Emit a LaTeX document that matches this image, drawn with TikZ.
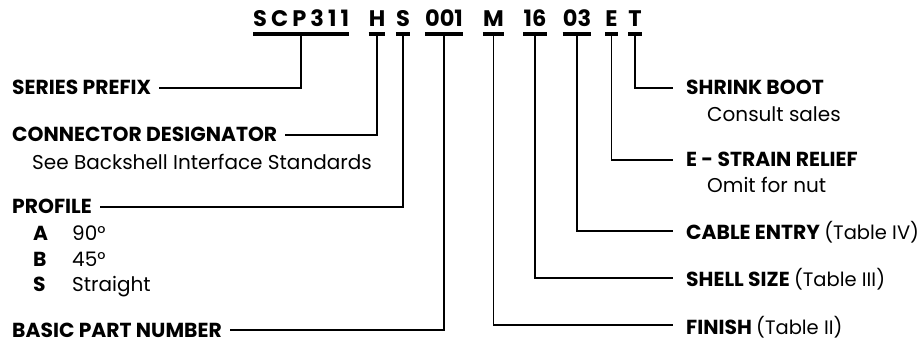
\documentclass[tikz,border=0pt]{standalone}
\usepackage{fontspec}
\setmainfont{Poppins}
\newfontfamily\codefont[LetterSpace=18]{Poppins}
\usetikzlibrary{positioning}

\begin{document}
\begin{tikzpicture}[x=1pt,y=-1pt,
    code/.style={inner sep=0pt, anchor=base, font=\fontsize{22.5}{22}\selectfont\bfseries},
    bar/.style={line width=3.8pt},
    lead/.style={line width=1.8pt},
    tag/.style={inner sep=0pt, anchor=base west, text depth=0pt, font=\fontsize{20.3}{20}\selectfont\bfseries},
    note/.style={inner sep=0pt, anchor=base west, font=\fontsize{20}{20}\selectfont}]
  \useasboundingbox (0,0) rectangle (923,347);

  % the part number
  \node[code, anchor=base west, font=\fontsize{22.5}{22}\codefont\bfseries] (scp) at (253,27) {SCP311};
  \node[code] (hh) at (377,27) {H};
  \node[code] (ss) at (403,27) {S};
  \node[code] (num) at (444,27) {001};
  \node[code] (mm) at (493.5,27) {M};
  \node[code] (sz) at (535,27) {16};
  \node[code] (ent) at (577,27) {03};
  \node[code] (ee) at (611.5,27) {E};
  \node[code] (tt) at (635,27) {T};
  \foreach \n in {scp,hh,ss,num,mm,sz,ent,ee,tt}
    \draw[bar] ([yshift=-7pt]\n.south west) -- ([yshift=-7pt]\n.south east);

  % left side
  \node[tag] (prefix) at (12,95) {SERIES PREFIX};
  \node[tag] (desig) at (12,142) {CONNECTOR DESIGNATOR};
  \node[note] (designote) at (32,170) {See Backshell Interface Standards};
  \node[tag] (profile) at (12,214) {PROFILE};
  \node[tag] (pa) at (33,241) {A};
  \node[note] (pav) at (72,241) {90°};
  \node[tag] (pb) at (33,266) {B};
  \node[note] (pbv) at (72,266) {45°};
  \node[tag] (ps) at (33,291) {S};
  \node[note] (psv) at (72,291) {Straight};
  \node[tag] (basic) at (12,337) {BASIC PART NUMBER};

  % right side
  \node[tag] (boot) at (686,95) {SHRINK BOOT};
  \node[note] (bootnote) at (707,122) {Consult sales};
  \node[tag] (relief) at (686,167) {E - STRAIN RELIEF};
  \node[note] (reliefnote) at (707,193) {Omit for nut};
  \node[tag] (cable) at (686,240) {CABLE ENTRY {\mdseries\fontsize{19.5}{20}\selectfont(Table IV)}};
  \node[tag] (shell) at (686,287) {SHELL SIZE {\mdseries\fontsize{19.5}{20}\selectfont(Table III)}};
  \node[tag] (finish) at (686,334) {FINISH {\mdseries\fontsize{19.5}{20}\selectfont(Table II)}};

  \draw[lead] ([yshift=-7pt]scp.south) |- ([xshift=8pt]prefix.east);
  \draw[lead] ([yshift=-7pt]hh.south) |- ([xshift=8pt]desig.east);
  \draw[lead] ([yshift=-7pt]ss.south) |- ([xshift=8pt]profile.east);
  \draw[lead] ([yshift=-7pt]num.south) |- ([xshift=8pt]basic.east);
  \draw[lead] ([yshift=-7pt]mm.south) |- ([xshift=-13pt]finish.west);
  \draw[lead] ([yshift=-7pt]sz.south) |- ([xshift=-13pt]shell.west);
  \draw[lead] ([yshift=-7pt]ent.south) |- ([xshift=-13pt]cable.west);
  \draw[lead] ([yshift=-7pt]ee.south) |- ([xshift=-13pt]relief.west);
  \draw[lead] ([yshift=-7pt]tt.south) |- ([xshift=-13pt]boot.west);
\end{tikzpicture}
\end{document}
